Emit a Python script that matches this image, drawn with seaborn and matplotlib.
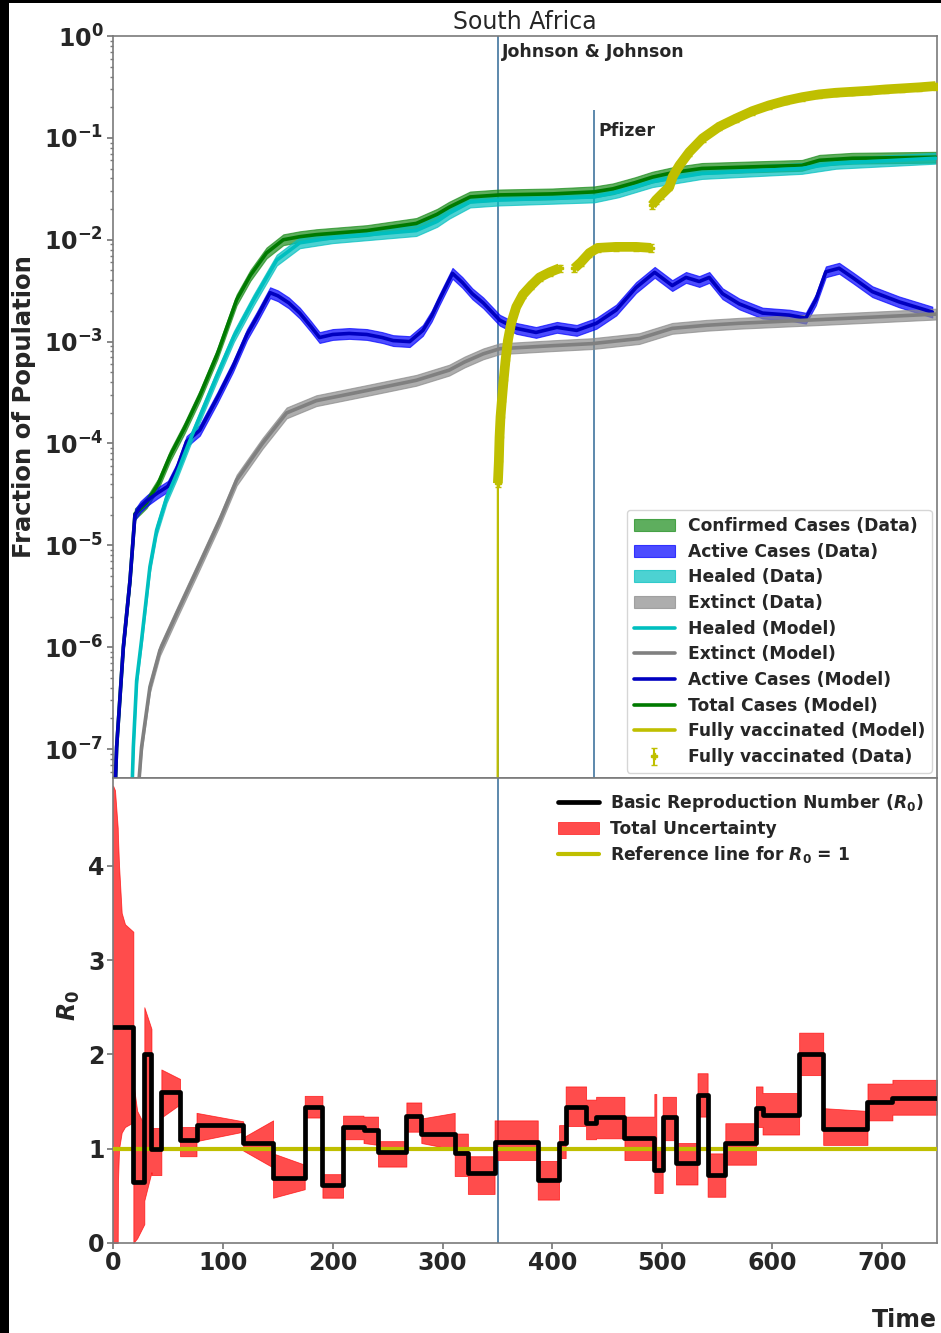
import numpy as np
import pandas as pd
import matplotlib
matplotlib.use("Agg")
import matplotlib.pyplot as plt
import seaborn as sns
from matplotlib.patches import Rectangle
from matplotlib.ticker import FixedLocator, LogLocator, NullFormatter

# ---------------------------------------------------------------- data
# Top panel: fractions of population, stored as log10 values
total_t = [0, 3.3, 9.4, 15.5, 20, 25, 30.6, 41, 52, 65, 79, 95, 112.5, 125, 139.7,
           155, 170, 185, 231, 276, 295, 306, 325, 352, 400, 438, 455, 475, 491, 510,
           536, 580, 627, 643, 673, 749]
total_log = [-8.0, -6.98, -6.0, -5.34, -4.69, -4.64, -4.58, -4.40, -4.12, -3.85, -3.53,
             -3.12, -2.59, -2.35, -2.13, -2.0, -1.97, -1.95, -1.91, -1.84, -1.75, -1.68,
             -1.58, -1.56, -1.55, -1.53, -1.50, -1.44, -1.385, -1.34, -1.30, -1.285,
             -1.27, -1.22, -1.20, -1.19]

healed_t = [17, 18.5, 21.5, 26, 33.6, 39.7, 48.8, 58, 70, 94, 110, 128, 149, 170, 200,
            276, 295, 306, 325, 352, 438, 460, 491, 536, 627, 658, 749]
healed_log = [-7.5, -6.98, -6.33, -5.93, -5.21, -4.85, -4.53, -4.30, -3.97, -3.35, -2.95,
              -2.59, -2.2, -2.03, -1.98, -1.91, -1.82, -1.74, -1.63, -1.61, -1.58, -1.53,
              -1.43, -1.35, -1.30, -1.25, -1.20]

extinct_t = [21.5, 26, 33.6, 42.7, 57.9, 79, 97.3, 112.5, 136, 158, 185, 231, 276, 306,
             320, 337, 352, 400, 436, 479, 509, 540, 570, 631, 691, 749]
extinct_log = [-7.6, -6.98, -6.39, -6.03, -5.67, -5.18, -4.75, -4.36, -4.0, -3.70, -3.58,
               -3.48, -3.38, -3.28, -3.20, -3.12, -3.07, -3.04, -3.02, -2.97, -2.87,
               -2.84, -2.82, -2.79, -2.76, -2.73]

active_t = [0, 3.3, 9.4, 15.5, 20, 25, 31, 40, 50, 58, 67, 79, 95, 109, 122, 131, 143,
            150, 160, 170, 180, 188, 200, 215, 231, 245, 255, 270, 282, 290, 297, 309,
            318, 327, 337, 352, 367, 385, 404, 422, 440, 458, 476, 493, 509, 521.5,
            533.6, 542.7, 554.8, 570, 591.2, 615.5, 630.6, 639.7, 648.8, 660.9, 673,
            691.2, 715.5, 745.7]
active_log = [-8.0, -6.98, -6.0, -5.34, -4.70, -4.62, -4.56, -4.49, -4.42, -4.25, -3.98,
              -3.87, -3.55, -3.25, -2.93, -2.76, -2.52, -2.55, -2.62, -2.72, -2.85, -2.96,
              -2.93, -2.92, -2.93, -2.96, -2.99, -3.0, -2.89, -2.75, -2.59, -2.33, -2.42,
              -2.53, -2.62, -2.79, -2.87, -2.91, -2.86, -2.89, -2.82, -2.69, -2.47, -2.32,
              -2.45, -2.37, -2.41, -2.37, -2.53, -2.63, -2.72, -2.74, -2.77, -2.59,
              -2.315, -2.28, -2.37, -2.51, -2.61, -2.71]

# Fully vaccinated: three reporting runs separated by gaps
vax_t = [[350.3, 351.2, 351.8, 352.7, 353.9, 355.5, 357.3, 359.4, 362.4, 367, 373,
          380.6, 388.2, 397.3, 406.4],
         [420, 426, 433.6, 441.2, 457.9, 476, 489.7],
         [490.6, 494.2, 498.8, 506.4, 509.4, 515.5, 524.5, 536.6, 551.8, 567, 582,
          597.3, 612.5, 627.5, 642.7, 657.9, 673, 688.2, 703.4, 718.5, 733.6, 748.8]]
vax_log = [[-4.39, -4.17, -3.94, -3.74, -3.58, -3.38, -3.18, -2.99, -2.82, -2.66, -2.54,
            -2.45, -2.37, -2.32, -2.28],
           [-2.28, -2.22, -2.13, -2.08, -2.07, -2.07, -2.08],
           [-1.66, -1.61, -1.56, -1.48, -1.38, -1.27, -1.14, -1.005, -0.89, -0.81, -0.737,
            -0.68, -0.635, -0.60, -0.573, -0.557, -0.547, -0.537, -0.524, -0.514, -0.504,
            -0.491]]
vax_model_onset = (350.0, -9.0)   # model starts from (practically) zero

# Vaccine roll-out dates
jj_day = 350
pfizer_day = 438

# Decade ticks of the fraction axis
frac_ticks = [1e-7, 1e-6, 1e-5, 1e-4, 1e-3, 1e-2, 1e-1, 1e0]

# Bottom panel: piecewise-constant R0 estimate
r0_edges = [0, 18.5, 28.5, 35, 44, 61, 76, 118.5, 145.7, 174.5, 190.6, 209.4, 228,
            241.2, 267, 280.6, 311, 323, 347.3, 386.6, 406, 412, 430.6, 439.7, 465.5,
            492.7, 500.3, 512.4, 532, 541.2, 557.3, 585.2, 591.2, 624.5, 646.4, 686.7,
            709.4, 750]
r0_values = [2.29, 0.65, 2.0, 1.0, 1.60, 1.09, 1.25, 1.06, 0.69, 1.44, 0.615, 1.23,
             1.20, 0.96, 1.35, 1.16, 0.95, 0.74, 1.075, 0.668, 1.064, 1.446, 1.276,
             1.34, 1.11, 0.775, 1.34, 0.852, 1.57, 0.72, 1.058, 1.43, 1.358, 2.005,
             1.21, 1.49, 1.54]

# Total uncertainty envelope of R0 (vertices: time, lower, upper)
band_t = [0.0, 1.8, 4.3, 4.5, 5.5, 7.9, 10.9, 18.5,
          18.5, 22.0, 28.5,
          28.5, 35.0, 35.0, 44.0, 44.0, 61.0, 61.0, 76.0, 76.0, 118.5, 118.5, 145.7,
          145.7, 174.5, 174.5, 190.6, 190.6, 209.4, 209.4, 228.0, 228.0, 241.2,
          241.2, 267.0, 267.0, 280.6, 280.6, 311.0, 311.0, 323.0, 323.0, 347.3,
          347.3, 386.6, 386.6, 406.0, 406.0, 412.0, 412.0, 430.6, 430.6, 439.7,
          439.7, 465.5, 465.5, 492.7, 492.7, 494.5, 494.5, 500.3, 500.3, 512.4,
          512.4, 532.0, 532.0, 541.2, 541.2, 557.3, 557.3, 585.2, 585.2, 591.2,
          591.2, 624.5, 624.5, 646.4, 646.4, 686.7, 686.7, 709.4, 709.4, 750.0]
band_lo = [0.0, 0.0, 0.0, 0.65, 1.0, 1.17, 1.23, 1.28,
           0.0, 0.05, 0.2,
           0.45, 0.75, 0.72, 0.72, 1.33, 1.47, 0.92, 0.92, 1.08, 1.18, 0.98, 0.80,
           0.48, 0.57, 1.33, 1.33, 0.48, 0.48, 1.10, 1.10, 1.06, 1.04,
           0.81, 0.81, 1.18, 1.18, 1.06, 0.99, 0.71, 0.71, 0.52, 0.52,
           0.88, 0.88, 0.46, 0.46, 0.90, 0.90, 1.24, 1.24, 1.10, 1.10,
           1.11, 1.11, 0.88, 0.88, 0.53, 0.53, 0.53, 0.53, 1.09, 1.09,
           0.62, 0.62, 1.34, 1.34, 0.49, 0.49, 0.83, 0.83, 1.23, 1.23,
           1.15, 1.15, 1.78, 1.78, 1.04, 1.04, 1.30, 1.30, 1.36, 1.36]
band_hi = [4.85, 4.80, 4.40, 4.30, 4.00, 3.50, 3.38, 3.30,
           1.70, 1.40, 1.25,
           2.50, 2.27, 1.22, 1.22, 1.84, 1.74, 1.23, 1.23, 1.38, 1.29, 1.12, 1.30,
           0.95, 0.83, 1.56, 1.56, 0.73, 0.73, 1.35, 1.35, 1.34, 1.34,
           1.08, 1.08, 1.49, 1.49, 1.32, 1.38, 1.16, 1.16, 0.92, 0.92,
           1.30, 1.30, 0.87, 0.87, 1.25, 1.25, 1.66, 1.66, 1.52, 1.52,
           1.55, 1.55, 1.34, 1.34, 1.58, 1.58, 1.00, 1.00, 1.55, 1.55,
           1.06, 1.06, 1.80, 1.80, 0.95, 0.95, 1.27, 1.27, 1.66, 1.66,
           1.59, 1.59, 2.23, 2.23, 1.43, 1.40, 1.69, 1.69, 1.73, 1.73]

data_spread = 1.13   # relative half-width of the observed-data bands

# ---------------------------------------------------------------- style
sns.set_theme(style="ticks", color_codes=False)
plt.rcParams["font.family"] = ["DejaVu Sans"]
plt.rcParams["font.weight"] = "bold"
plt.rcParams["mathtext.fontset"] = "custom"
plt.rcParams["mathtext.rm"] = "DejaVu Sans:bold"
plt.rcParams["mathtext.bf"] = "DejaVu Sans:bold"
plt.rcParams["mathtext.it"] = "DejaVu Sans:italic:bold"
spine_col = "#7a7a7a"
vline_col = "#4f7fa6"
cyan = "#00bfbf"
olive = "#bfbf00"
green = "#007a00"
navy = "#0000c0"

fig = plt.figure(figsize=(9.41, 13.33), dpi=100)
ax1 = fig.add_axes([0.1201, 0.41635, 0.87566, 0.55664])
ax2 = fig.add_axes([0.1201, 0.06752, 0.87566, 0.34883], sharex=ax1)

# ---------------------------------------------------------------- top panel
ax1.set_yscale("log")
series = [
    ("Confirmed Cases", total_t, total_log, "#1a8c1a", green),
    ("Active Cases", active_t, active_log, "#0000ff", navy),
    ("Healed", healed_t, healed_log, cyan, cyan),
    ("Extinct", extinct_t, extinct_log, "#8a8a8a", "#808080"),
]
band_handles = {}
for name, t, lg, band_col, _ in series:
    v = 10.0 ** np.asarray(lg)
    band_handles[name] = ax1.fill_between(t, v / data_spread, v * data_spread,
                                          color=band_col, alpha=0.7, lw=0.8, zorder=2)

frames = []
for name, t, lg, _, line_col in series:
    frames.append(pd.DataFrame({"time": t, "frac": 10.0 ** np.asarray(lg), "series": name}))
model_df = pd.concat(frames, ignore_index=True)
palette = {name: line_col for name, _, _, _, line_col in series}
sns.lineplot(data=model_df, x="time", y="frac", hue="series", palette=palette,
             estimator=None, sort=False, lw=2.6, legend=False, ax=ax1, zorder=3)

# vaccination model (thin) and data (dense daily points)
vax_frames = []
for k, (t, lg) in enumerate(zip(vax_t, vax_log)):
    tt, ll = list(t), list(lg)
    if k == 0:
        tt = [vax_model_onset[0]] + tt
        ll = [vax_model_onset[1]] + ll
    vax_frames.append(pd.DataFrame({"time": tt, "frac": 10.0 ** np.asarray(ll), "run": k}))
vax_df = pd.concat(vax_frames, ignore_index=True)
sns.lineplot(data=vax_df, x="time", y="frac", units="run", estimator=None, sort=False,
             color=olive, lw=1.6, ax=ax1, zorder=4)
for t, lg in zip(vax_t, vax_log):
    ax1.plot(t, 10.0 ** np.asarray(lg), color=olive, lw=7, solid_capstyle="butt", zorder=4)
all_vt = np.concatenate(vax_t)
all_vv = 10.0 ** np.concatenate(vax_log)
vax_err = ax1.errorbar(all_vt, all_vv, yerr=0.08 * all_vv, fmt="P", color=olive, ms=5,
                       elinewidth=1.5, capsize=2.5, zorder=5)

ax1.axvline(jj_day, color=vline_col, lw=1.3, zorder=1.5)
ax1.vlines(pfizer_day, 5e-8, 0.1875, color=vline_col, lw=1.3, zorder=1.5)
ax1.text(354, 0.697, "Johnson & Johnson", fontsize=12.5, fontweight="bold", va="center")
ax1.text(441.5, 0.1166, "Pfizer", fontsize=12.5, fontweight="bold", va="center")

ax1.set_xlim(0, 750)
ax1.set_ylim(5.2e-8, 1.0)
ax1.yaxis.set_major_locator(FixedLocator(frac_ticks))
ax1.yaxis.set_minor_locator(LogLocator(base=10, subs=np.arange(2, 10) * 1.0, numticks=20))
ax1.yaxis.set_minor_formatter(NullFormatter())
ax1.set_title("South Africa", fontsize=17, fontweight="normal", pad=5)
ax1.set_ylabel("Fraction of Population", fontsize=17.5, fontweight="bold")
ax1.yaxis.set_label_coords(-0.093, 0.5)
ax1.set_xlabel("")
ax1.tick_params(axis="x", bottom=False, labelbottom=False)
ax1.tick_params(axis="y", which="major", labelsize=17, length=4, color=spine_col, pad=3)
ax1.tick_params(axis="y", which="minor", length=2, color=spine_col)

line_h = [
    plt.Line2D([], [], color=cyan, lw=2.6),
    plt.Line2D([], [], color="#808080", lw=2.6),
    plt.Line2D([], [], color=navy, lw=2.6),
    plt.Line2D([], [], color=green, lw=2.6),
    plt.Line2D([], [], color=olive, lw=2.6),
]
handles1 = [band_handles["Confirmed Cases"], band_handles["Active Cases"],
            band_handles["Healed"], band_handles["Extinct"]] + line_h + [vax_err]
labels1 = ["Confirmed Cases (Data)", "Active Cases (Data)", "Healed (Data)",
           "Extinct (Data)", "Healed (Model)", "Extinct (Model)", "Active Cases (Model)",
           "Total Cases (Model)", "Fully vaccinated (Model)", "Fully vaccinated (Data)"]
leg1 = ax1.legend(handles1, labels1, loc="lower right", prop={"weight": "bold", "size": 12.3},
                  handlelength=2.4, handletextpad=0.75, labelspacing=0.45,
                  borderaxespad=0.3, frameon=True, edgecolor="#cccccc", fancybox=True)
leg1.get_frame().set_linewidth(1.0)

# ---------------------------------------------------------------- bottom panel
r0_df = pd.DataFrame({"time": r0_edges, "R0": r0_values + [r0_values[-1]]})
band_poly = ax2.fill_between(band_t, band_lo, band_hi, color="red", alpha=0.7, lw=0.6,
                             zorder=2)
sns.lineplot(data=r0_df, x="time", y="R0", estimator=None, sort=False, color="black",
             lw=3.4, drawstyle="steps-post", ax=ax2, zorder=4)
ref = ax2.axhline(1.0, color=olive, lw=3, zorder=3)
ax2.axvline(jj_day, color=vline_col, lw=1.3, zorder=1.5)

ax2.set_ylim(0, 4.93)
ax2.set_xticks([0, 100, 200, 300, 400, 500, 600, 700])
ax2.set_yticks([0, 1, 2, 3, 4])
ax2.tick_params(axis="both", which="major", labelsize=17, length=4, color=spine_col, pad=2)
ax2.set_ylabel(r"$R_0$", fontsize=17)
ax2.yaxis.set_label_coords(-0.038, 0.51)
ax2.set_xlabel("Time", fontsize=17, fontweight="bold")
ax2.xaxis.label.set_va("center")
ax2.xaxis.set_label_coords(0.961, -0.166)

r0_h = plt.Line2D([], [], color="black", lw=3.4)
ax2.legend([r0_h, band_poly, ref],
           [r"Basic Reproduction Number ($R_0$)", "Total Uncertainty",
            r"Reference line for $R_0$ = 1"],
           loc="upper right", prop={"weight": "bold", "size": 12.3}, frameon=False,
           handlelength=2.4, handletextpad=0.65, labelspacing=0.35, borderaxespad=0.4)

for ax in (ax1, ax2):
    for sp in ax.spines.values():
        sp.set_color(spine_col)
        sp.set_linewidth(1.2)

# dark frame strips along the left and top edges
fig.add_artist(Rectangle((0, 0), 9 / 941, 1, transform=fig.transFigure,
                         facecolor="black", edgecolor="none", zorder=10))
fig.add_artist(Rectangle((0, 1 - 3 / 1333), 1, 3 / 1333, transform=fig.transFigure,
                         facecolor="black", edgecolor="none", zorder=10))

fig.savefig("out.png", dpi=100)
